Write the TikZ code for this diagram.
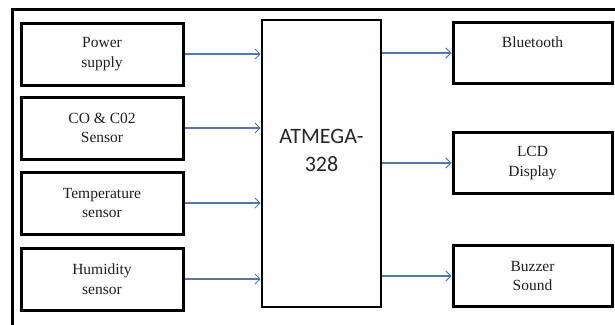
\documentclass[tikz,border=0pt]{standalone}
\usepackage{fontspec}
\setmainfont{Liberation Serif}
\newfontfamily\calibrifont{Carlito}
\usetikzlibrary{arrows.meta}
\definecolor{arrowblue}{RGB}{79,120,175}
\definecolor{textgray}{RGB}{30,30,30}
\begin{document}
\begin{tikzpicture}[x=1pt,y=-1pt,
  blk/.style={draw=black,line width=3pt,fill=white,minimum width=162pt,minimum height=62pt,
    inner sep=0pt,align=center,text=textgray,font=\fontsize{15.5}{19.5}\selectfont},
  conn/.style={draw=arrowblue,line width=1.25pt,-{Straight Barb[length=5pt,width=10pt,line width=1pt]}}]
\useasboundingbox (0,0) rectangle (615,324);
% outer frame (partially visible)
\draw[line width=3pt,line cap=rect] (12.5,324) -- (12.5,9.5) -- (615,9.5);
% input blocks
\node[blk] (pwr)  at (102,54)  {Power\\supply};
\node[blk] (co)   at (102,128) {CO \& C02\\Sensor};
\node[blk] (temp) at (102,203) {Temperature\\sensor};
\node[blk] (hum)  at (102,279) {Humidity\\sensor};
% microcontroller
\node[draw=black,line width=2.6pt,minimum width=119pt,minimum height=287pt,inner sep=0pt] (mcu) at (321.5,163.5) {};
\node[font=\calibrifont\fontsize{22}{28}\selectfont,text=black!85,align=center] (mcutext) at (321.5,150) {ATMEGA-\\328};
% output blocks
\node[blk,minimum width=159pt,minimum height=61pt] (bt)  at (532.5,53)  {Bluetooth\\[2pt]~};
\node[blk,minimum width=159pt,minimum height=61pt] (lcd) at (532.5,163) {LCD\\Display};
\node[blk,minimum width=159pt,minimum height=61pt] (buz) at (532.5,276) {Buzzer\\Sound};
% connectors
\draw[conn] (pwr.east)  -- (pwr.east -| mcu.west);
\draw[conn] (co.east)   -- (co.east -| mcu.west);
\draw[conn] (temp.east) -- (temp.east -| mcu.west);
\draw[conn] (hum.east)  -- (hum.east -| mcu.west);
\draw[conn] (mcu.east |- bt.west)  -- (bt.west);
\draw[conn] (mcu.east |- lcd.west) -- (lcd.west);
\draw[conn] (mcu.east |- buz.west) -- (buz.west);
\end{tikzpicture}
\end{document}
